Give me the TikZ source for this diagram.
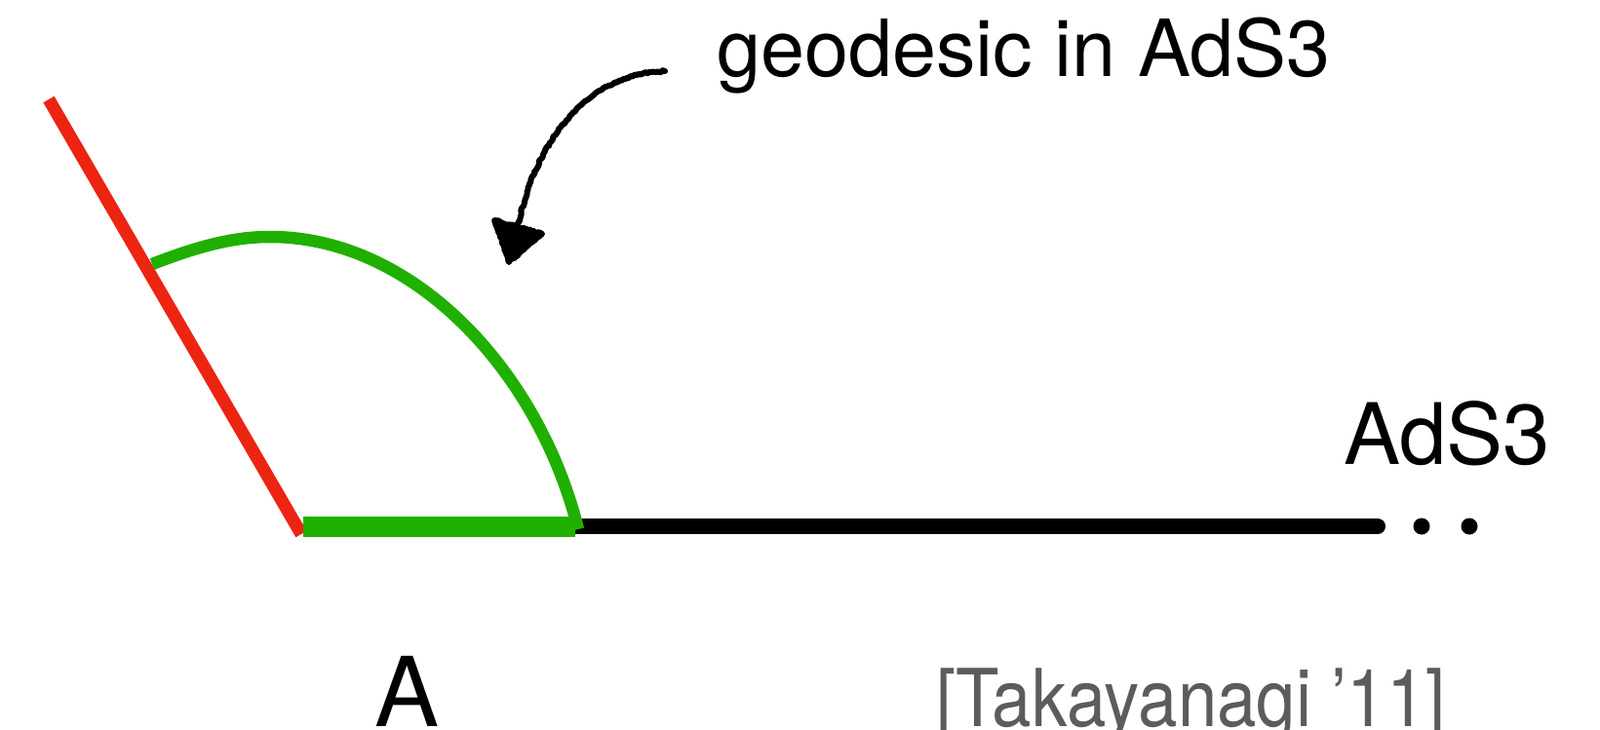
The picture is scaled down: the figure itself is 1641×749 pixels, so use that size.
\documentclass[tikz,border=0pt]{standalone}
\usepackage{fontspec}
\usepackage{graphicx}
\setmainfont{TeX Gyre Heros}
\usetikzlibrary{decorations.pathmorphing}
\definecolor{branered}{RGB}{236,36,18}
\definecolor{geogreen}{RGB}{32,176,0}
\definecolor{citegray}{RGB}{92,92,92}
\begin{document}
\begin{tikzpicture}[x=1pt,y=-1pt,
  redline/.style={draw=branered,line width=13pt},
  geoarc/.style={draw=geogreen,line width=12.5pt},
  geobar/.style={draw=geogreen,line width=21pt},
  bdry/.style={draw=black,line width=16pt},
  bdot/.style={fill=black},
  chalk/.style={draw=black,line width=6pt,line cap=round,line join=round,
    decorate,decoration={random steps,segment length=2pt,amplitude=0.9pt}},
  lbl/.style={anchor=base west,inner sep=0pt}]
\useasboundingbox (0,0) rectangle (1641,749);
% points
\coordinate (Rtop) at (50,102);
\coordinate (Rbot) at (309,548);
\coordinate (Gs) at (311,540.5);
\coordinate (Ge) at (590,540.5);
\coordinate (Bs) at (570,540);
\coordinate (Be) at (1413,540);
\coordinate (As) at (156,271);
\coordinate (Ap) at (277,243);
\coordinate (Ae) at (593,543);
\coordinate (D1) at (1458,540);
\coordinate (D2) at (1507,540);
\coordinate (K1) at (682,73);
\coordinate (K2) at (530,240);
\coordinate (T1) at (507,226);
\coordinate (T2) at (556,240);
\coordinate (T3) at (522,269);
% boundary
\draw[bdry,line cap=round] (Bs) -- (Be);
\fill[bdot] (D1) circle[radius=8.5pt];
\fill[bdot] (D2) circle[radius=8.5pt];
% brane
\draw[redline] (Rtop) -- (Rbot);
% subsystem and geodesic
\draw[geobar] (Gs) -- (Ge);
\draw[geoarc] (As) .. controls (200,254) and (237,243) .. (Ap)
  .. controls (425,243) and (553,382) .. (Ae);
% hand-drawn arrow
\draw[chalk] (K1) .. controls (600,75) and (545,150) .. (K2);
\filldraw[chalk] (T1) -- (T2) -- (T3) -- cycle;
% labels
\node[lbl,font=\fontsize{81}{96}\selectfont] (geolabel) at (735,79) {geodesic in AdS3};
\node[lbl,font=\fontsize{87}{104}\selectfont] (adslabel) at (1378,476) {AdS3};
\node[lbl,font=\fontsize{99}{116}\selectfont] (alabel) at (384,745) {A};
\node[lbl,text=citegray,font=\fontsize{82}{98}\selectfont] (cite) at (960,745) {\scalebox{0.886}[1]{[Takayanagi ’11]}};
\end{tikzpicture}
\end{document}
